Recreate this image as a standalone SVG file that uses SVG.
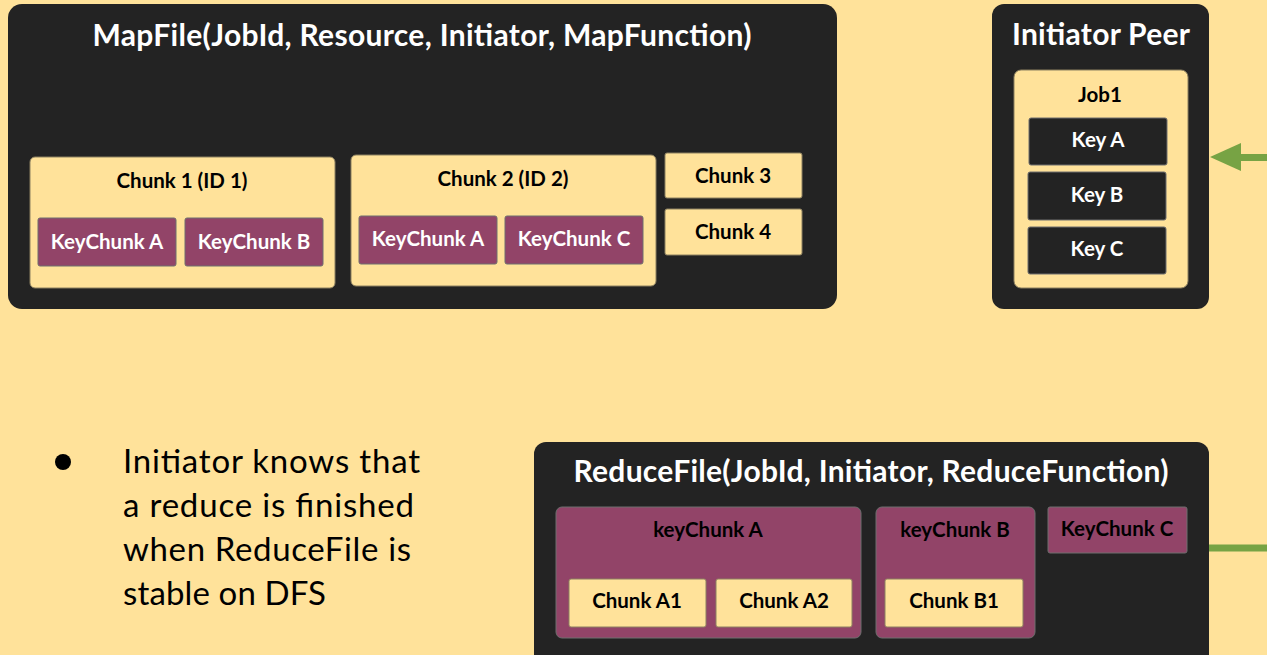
<svg xmlns="http://www.w3.org/2000/svg" width="1267" height="655" viewBox="0 0 1267 655">
  <defs>
    <style>
      .frame { fill: #232323; }
      .cream { fill: #FFE29A; stroke: #8c8060; stroke-width: 1; }
      .plum { fill: #924468; stroke: #6e6e6e; stroke-width: 1; }
      .key { fill: #232323; stroke: #6e6e6e; stroke-width: 1; }
      .t { font-family: Lato, "Open Sans", "Liberation Sans", sans-serif; font-weight: 700; text-anchor: middle; }
      .title { font-size: 30px; fill: #ffffff; }
      .lbl { font-size: 20.5px; fill: #000000; }
      .lblw { font-size: 20.5px; fill: #ffffff; }
      .body { font-family: Lato, "Open Sans", "Liberation Sans", sans-serif; font-size: 33px; fill: #000000; }
      .link { stroke: #77A344; stroke-width: 7; fill: none; }
    </style>
  </defs>

  <rect width="1267" height="655" fill="#FFE29A"/>

  <!-- Map file with its chunks -->
  <g id="mapfile">
    <rect class="frame" x="8" y="4" width="829" height="305" rx="14"/>
    <text class="t title" x="422" y="46" textLength="659" lengthAdjust="spacing">MapFile(JobId, Resource, Initiator, MapFunction)</text>
  </g>
  <g id="chunk1">
    <rect class="cream" x="30" y="157" width="305" height="131" rx="5"/>
    <text class="t lbl" x="182" y="188">Chunk 1 (ID 1)</text>
  </g>
  <g id="chunk1-keyA">
    <rect class="plum" x="38" y="218" width="138" height="48" rx="2"/>
    <text class="t lblw" x="107" y="249">KeyChunk A</text>
  </g>
  <g id="chunk1-keyB">
    <rect class="plum" x="185" y="218" width="138" height="48" rx="2"/>
    <text class="t lblw" x="254" y="249">KeyChunk B</text>
  </g>
  <g id="chunk2">
    <rect class="cream" x="351" y="155" width="305" height="131" rx="5"/>
    <text class="t lbl" x="503" y="186">Chunk 2 (ID 2)</text>
  </g>
  <g id="chunk2-keyA">
    <rect class="plum" x="359" y="216" width="138" height="48" rx="2"/>
    <text class="t lblw" x="428" y="246">KeyChunk A</text>
  </g>
  <g id="chunk2-keyC">
    <rect class="plum" x="505" y="216" width="138" height="48" rx="2"/>
    <text class="t lblw" x="574" y="246">KeyChunk C</text>
  </g>
  <g id="chunk3">
    <rect class="cream" x="665" y="153" width="137" height="45" rx="2"/>
    <text class="t lbl" x="733" y="183">Chunk 3</text>
  </g>
  <g id="chunk4">
    <rect class="cream" x="665" y="209" width="137" height="46" rx="2"/>
    <text class="t lbl" x="733" y="239">Chunk 4</text>
  </g>

  <!-- Initiator peer holding the job keys -->
  <g id="initiator">
    <rect class="frame" x="992" y="4" width="217" height="305" rx="12"/>
    <text class="t title" x="1101" y="45" textLength="178" lengthAdjust="spacing">Initiator Peer</text>
  </g>
  <g id="job1">
    <rect class="cream" x="1014" y="70" width="174" height="218" rx="7"/>
    <text class="t lbl" x="1100" y="102">Job1</text>
  </g>
  <g id="keyA">
    <rect class="key" x="1029" y="118" width="138" height="47" rx="2"/>
    <text class="t lblw" x="1098" y="147">Key A</text>
  </g>
  <g id="keyB">
    <rect class="key" x="1028" y="172" width="138" height="48" rx="2"/>
    <text class="t lblw" x="1097" y="202">Key B</text>
  </g>
  <g id="keyC">
    <rect class="key" x="1028" y="227" width="138" height="47" rx="2"/>
    <text class="t lblw" x="1097" y="256">Key C</text>
  </g>

  <!-- Reduce file with its key chunks -->
  <g id="reducefile">
    <rect class="frame" x="534" y="442" width="675" height="230" rx="12"/>
    <text class="t title" x="871" y="482" textLength="595" lengthAdjust="spacing">ReduceFile(JobId, Initiator, ReduceFunction)</text>
  </g>
  <g id="rkeyA">
    <rect class="plum" x="556" y="507" width="305" height="131" rx="6"/>
    <text class="t lbl" x="708" y="537">keyChunk A</text>
  </g>
  <g id="chunkA1">
    <rect class="cream" x="569" y="579" width="137" height="48" rx="2"/>
    <text class="t lbl" x="637" y="608">Chunk A1</text>
  </g>
  <g id="chunkA2">
    <rect class="cream" x="716" y="579" width="136" height="48" rx="2"/>
    <text class="t lbl" x="784" y="608">Chunk A2</text>
  </g>
  <g id="rkeyB">
    <rect class="plum" x="876" y="507" width="159" height="131" rx="6"/>
    <text class="t lbl" x="955" y="537">keyChunk B</text>
  </g>
  <g id="chunkB1">
    <rect class="cream" x="885" y="579" width="138" height="48" rx="2"/>
    <text class="t lbl" x="954" y="608">Chunk B1</text>
  </g>
  <g id="rkeyC">
    <rect class="plum" x="1048" y="507" width="139" height="46" rx="2"/>
    <text class="t lbl" x="1117" y="536">KeyChunk C</text>
  </g>

  <!-- Connectors -->
  <g id="connectors">
    <line class="link" x1="1267" y1="157.5" x2="1238" y2="157.5"/>
    <polygon points="1210,157 1241,143 1241,171" fill="#77A344"/>
    <line class="link" x1="1209" y1="548" x2="1267" y2="548"/>
  </g>

  <!-- Note -->
  <g id="note">
    <circle cx="63" cy="462" r="8" fill="#000000"/>
    <text class="body" x="123" y="473" textLength="297" lengthAdjust="spacing">Initiator knows that</text>
    <text class="body" x="123" y="517" textLength="291" lengthAdjust="spacing">a reduce is finished</text>
    <text class="body" x="123" y="561" textLength="288" lengthAdjust="spacing">when ReduceFile is</text>
    <text class="body" x="123" y="605" textLength="203" lengthAdjust="spacing">stable on DFS</text>
  </g>
</svg>
